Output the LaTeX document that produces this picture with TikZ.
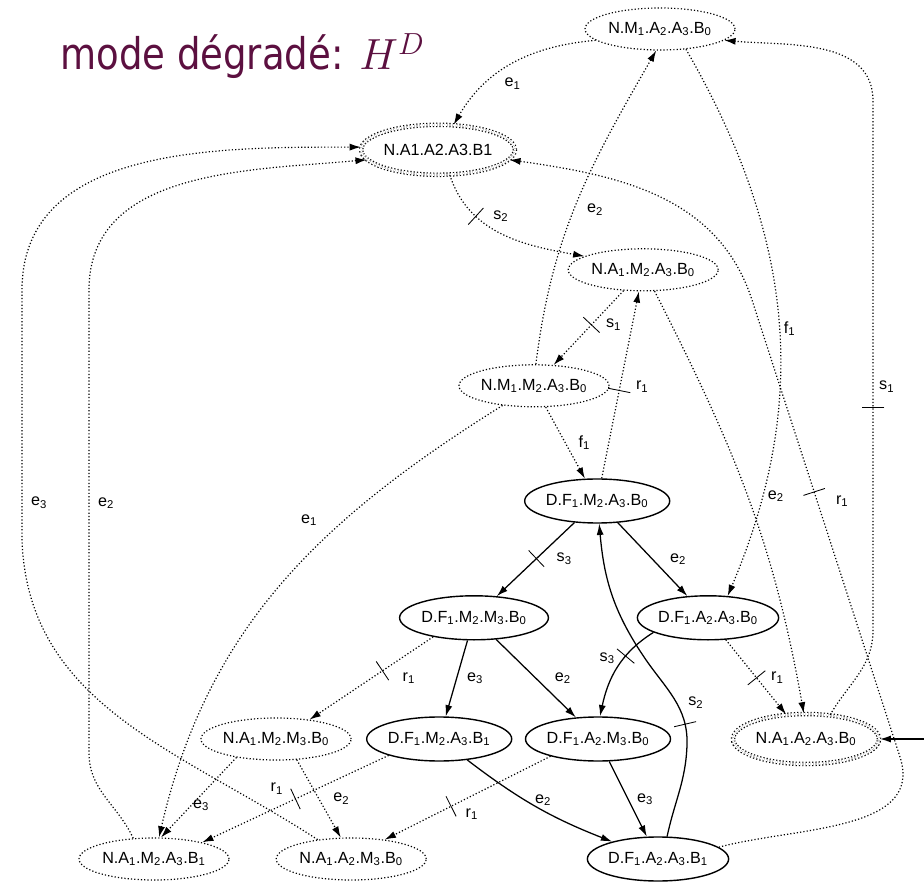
\RequirePackage{fix-cm}
\documentclass[tikz,border=0pt]{standalone}
\usepackage{fontspec}
\setmainfont{Liberation Sans}
\newfontfamily\titlefont[FakeStretch=0.85]{DejaVu Sans}
\usetikzlibrary{shapes.geometric,arrows.meta,positioning}

\definecolor{myplum}{RGB}{92,16,64}
\newcommand{\sbs}[1]{\textsubscript{#1}}
\newcommand{\tk}{\rule[-8pt]{0.6pt}{16pt}}

\begin{document}
\begin{tikzpicture}[>={Latex[length=8pt,width=5pt]},
            state/.style={ellipse, draw, line width=1pt, inner sep=0pt,
                          minimum width=3.5cm, minimum height=1.1cm},
            nstate/.style={state, line width=0.85pt, dash pattern=on 0.85pt off 1.5pt,
                           minimum width=3.75cm, minimum height=1.05cm},
            mstate/.style={nstate, double, double distance=1.5pt,
                           minimum width=3.65cm, minimum height=1.25cm},
            sure/.style={->, line width=0.9pt},
            weak/.style={->, line width=0.85pt, dash pattern=on 0.85pt off 1.5pt},
            barre/.style={sloped, inner sep=0pt},
            lab/.style={inner sep=1pt},
            font=\fontsize{11.5}{13}\selectfont
         ]
      \useasboundingbox (0,0) rectangle (23.1,22.225);

      \node[anchor=base west, inner sep=0pt, text=myplum,
            font=\titlefont\fontsize{31}{36}\selectfont] (title) at (1.5, 20.475) {mode dégradé: $H^D$};

      \node[nstate] (nm1a2a3b0) at (16.5, 21.5) {N.M\sbs{1}.A\sbs{2}.A\sbs{3}.B\sbs{0}};
      \node[mstate] (na1a2a3b1) at (10.95, 18.48) {N.A1.A2.A3.B1};
      \node[nstate] (na1m2a3b0) at (16.08, 15.48) {N.A\sbs{1}.M\sbs{2}.A\sbs{3}.B\sbs{0}};
      \node[nstate] (nm1m2a3b0) at (13.35, 12.58) {N.M\sbs{1}.M\sbs{2}.A\sbs{3}.B\sbs{0}};
      \node[state] (df1m2a3b0) at (14.93, 9.7) {D.F\sbs{1}.M\sbs{2}.A\sbs{3}.B\sbs{0}};
      \node[state] (df1m2m3b0) at (11.85, 6.78) {D.F\sbs{1}.M\sbs{2}.M\sbs{3}.B\sbs{0}};
      \node[state] (df1a2a3b0) at (17.7, 6.78) {D.F\sbs{1}.A\sbs{2}.A\sbs{3}.B\sbs{0}};
      \node[nstate] (na1m2m3b0) at (6.9, 3.75) {N.A\sbs{1}.M\sbs{2}.M\sbs{3}.B\sbs{0}};
      \node[state] (df1m2a3b1) at (10.98, 3.75) {D.F\sbs{1}.M\sbs{2}.A\sbs{3}.B\sbs{1}};
      \node[state] (df1a2m3b0) at (14.95, 3.75) {D.F\sbs{1}.A\sbs{2}.M\sbs{3}.B\sbs{0}};
      \node[mstate] (na1a2a3b0) at (20.15, 3.75) {N.A\sbs{1}.A\sbs{2}.A\sbs{3}.B\sbs{0}};
      \node[nstate] (na1m2a3b1) at (3.85, 0.75) {N.A\sbs{1}.M\sbs{2}.A\sbs{3}.B\sbs{1}};
      \node[nstate] (na1a2m3b0) at (8.78, 0.75) {N.A\sbs{1}.A\sbs{2}.M\sbs{3}.B\sbs{0}};
      \node[state] (df1a2a3b1) at (16.45, 0.75) {D.F\sbs{1}.A\sbs{2}.A\sbs{3}.B\sbs{1}};
      \coordinate (init) at (23.1, 3.75);

      \draw[weak] (nm1a2a3b0.190) to[out=185, in=60] node[lab, pos=.5, below=9pt] {e\sbs{1}} (na1a2a3b1.58);
      \draw[weak] (na1a2a3b1.-65) to[out=-72, in=170] node[barre, pos=.3] {\tk} node[lab, pos=.3, right=11pt] {s\sbs{2}} (na1m2a3b0.167);
      \draw[weak] (na1m2a3b0) -- node[barre, pos=.46] {\tk} node[lab, pos=.46, right=9pt] {s\sbs{1}} (nm1m2a3b0);
      \draw[weak] (nm1m2a3b0.85) to[out=83, in=-120] node[lab, pos=.47, right=8pt] {e\sbs{2}} (nm1a2a3b0.-100);
      \draw[weak] (nm1m2a3b0) -- node[lab, pos=.5, right=8pt] {f\sbs{1}} (df1m2a3b0);
      \draw[weak] (df1m2a3b0) -- node[barre, pos=.47] {\tk} node[lab, pos=.49, right=10pt] {r\sbs{1}} (na1m2a3b0);
      \draw[weak] (nm1m2a3b0) to[out=212, in=77] node[lab, pos=.33, left=18pt] {e\sbs{1}} (na1m2a3b1);
      \draw[weak] (na1m2a3b1.135) to[out=115, in=-90] (2.225, 3.4) -- node[lab, pos=.54, right=5pt] {e\sbs{2}} (2.225, 14.975)
                  to[out=90, in=185] (na1a2a3b1.188);
      \draw[weak] (na1a2m3b0.150) to[out=147, in=-88] (0.55, 8.725) -- node[lab, pos=.15, right=5pt] {e\sbs{3}} (0.55, 14.975)
                  to[out=90, in=180] (na1a2a3b1.178);
      \draw[weak] (na1a2a3b0.45) to[out=60, in=-90] (21.825, 6.475) -- node[barre, pos=.42] {\tk} node[lab, pos=.46, right=3pt] {s\sbs{1}} (21.825, 19.7)
                  to[out=90, in=-5] (nm1a2a3b0.-10);
      \draw[weak] (df1a2a3b1.11) to[out=15, in=-72] (22.5, 3.3) -- node[barre, pos=.58] {\tk} node[lab, pos=.56, right=12pt] {r\sbs{1}} (18.8, 14.725)
                  to[out=108, in=-8] (na1a2a3b1.-8);
      \draw[weak] (nm1a2a3b0.-38) to[out=-60, in=67] node[lab, pos=.52, right=2pt] {f\sbs{1}} (df1a2a3b0.48);
      \draw[weak] (na1m2a3b0.-62) to[out=-63, in=100] node[lab, pos=.5, right=13pt] {e\sbs{2}} (na1a2a3b0.95);

      \draw[sure] (df1m2a3b0) -- node[barre, pos=.49] {\tk} node[lab, pos=.49, right=13pt] {s\sbs{3}} (df1m2m3b0);
      \draw[sure] (df1m2a3b0) -- node[lab, pos=.5, right=11pt] {e\sbs{2}} (df1a2a3b0);
      \draw[sure] (df1a2a3b1.68) to[out=78, in=-92] (17.175, 3.6) to[out=88, in=-56] node[barre, pos=.2] {\tk} node[lab, pos=.45, right=7pt] {s\sbs{2}} (16.1, 5.8)
                  to[out=124, in=-85] (df1m2a3b0.-85);
      \draw[sure] (df1a2a3b0.195) to[out=212, in=78] node[barre, pos=.35] {\tk} node[lab, pos=.38, left=5pt] {s\sbs{3}} (df1a2m3b0.85);
      \draw[sure] (df1m2m3b0) -- node[lab, pos=.5, right=6pt] {e\sbs{3}} (df1m2a3b1);
      \draw[sure] (df1m2m3b0) -- node[lab, pos=.5, right=12pt] {e\sbs{2}} (df1a2m3b0);
      \draw[sure] (df1m2a3b1) to[bend right=8] node[lab, pos=.55, above=2pt] {e\sbs{2}} (df1a2a3b1);
      \draw[sure] (df1a2m3b0) -- node[lab, pos=.5, right=5pt] {e\sbs{3}} (df1a2a3b1);

      \draw[weak] (df1a2a3b0) -- node[barre, pos=.51] {\tk} node[lab, pos=.51, right=9pt] {r\sbs{1}} (na1a2a3b0);
      \draw[weak] (df1m2m3b0.205) -- node[barre, pos=.41] {\tk} node[lab, pos=.41, below right=0pt and 13pt] {r\sbs{1}} (na1m2m3b0.30);
      \draw[weak] (na1m2m3b0.205) -- node[lab, pos=.6, right=0pt] {e\sbs{3}} (na1m2a3b1.72);
      \draw[weak] (na1m2m3b0.-45) -- node[lab, pos=.5, right=9pt] {e\sbs{2}} (na1a2m3b0.116);
      \draw[weak] (df1m2a3b1.198) -- node[barre, pos=.5] {\tk} node[lab, pos=.6, above=8pt] {r\sbs{1}} (na1m2a3b1.19);
      \draw[weak] (df1a2m3b0.200) -- node[barre, pos=.6] {\tk} node[lab, pos=.6, below right=0pt and 9pt] {r\sbs{1}} (na1a2m3b0.30);

      \draw[sure, line width=1.2pt] (init) -- (na1a2a3b0);
   \end{tikzpicture}
\end{document}
